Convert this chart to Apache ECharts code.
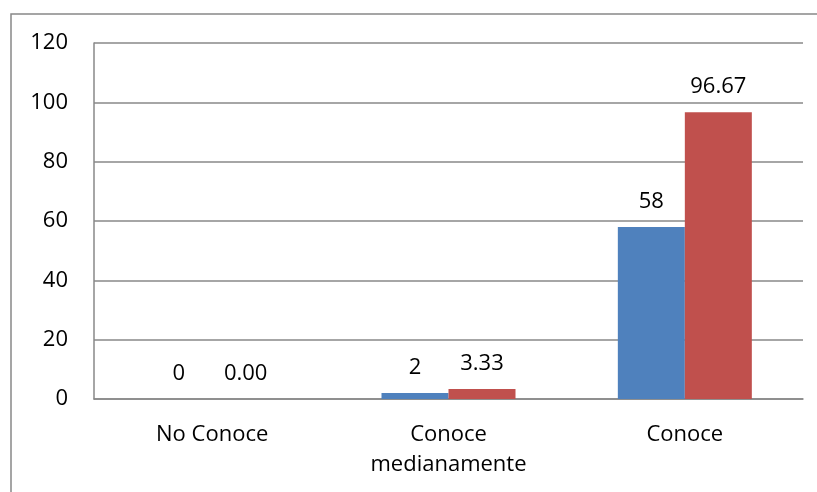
<!DOCTYPE html>
<html>
<head>
<meta charset="utf-8">
<script src="https://cdn.jsdelivr.net/npm/echarts@6/dist/echarts.min.js"></script>
<style>
  html, body { margin: 0; padding: 0; background: #fff; }
  #chart { width: 817px; height: 492px; }
</style>
</head>
<body>
<div id="chart"></div>
<script>
var categories = ["No Conoce", "Conoce\nmedianamente", "Conoce"];
var serieA = [0, 2, 58];
var serieB = [0.0, 3.33, 96.67];
var yTicks = { min: 0, max: 120, interval: 20 };

var fontFam = "Open Sans";
var fs = 22;
var chart = echarts.init(document.getElementById("chart"));

var option = {
  animation: false,
  textStyle: { fontFamily: fontFam },
  graphic: [
    {
      type: "rect",
      shape: { x: 11, y: 14, width: 830, height: 500 },
      style: { fill: "none", stroke: "#888888", lineWidth: 1.5 },
      silent: true
    }
  ],
  grid: { left: 94, top: 43, right: 14, bottom: 93 },
  xAxis: {
    type: "category",
    data: categories,
    axisLine: { show: true, lineStyle: { color: "#888888", width: 1.5 } },
    axisTick: { show: false },
    axisLabel: {
      color: "#000",
      fontSize: fs,
      fontFamily: fontFam,
      margin: 21,
      lineHeight: 30
    }
  },
  yAxis: {
    type: "value",
    min: yTicks.min,
    max: yTicks.max,
    interval: yTicks.interval,
    axisLine: { show: true, lineStyle: { color: "#888888", width: 1.5 } },
    axisTick: { show: false },
    splitLine: { lineStyle: { color: "#888888", width: 1.5 } },
    axisLabel: { color: "#000", fontSize: fs, fontFamily: fontFam, margin: 26 }
  },
  series: [
    {
      type: "bar",
      data: serieA,
      barWidth: 67,
      barGap: "0%",
      itemStyle: { color: "#4F81BD" },
      label: {
        show: true,
        position: "top",
        distance: 14,
        color: "#000",
        fontSize: fs,
        fontFamily: fontFam,
        formatter: function (p) { return String(p.value); }
      }
    },
    {
      type: "bar",
      data: serieB,
      barWidth: 67,
      barGap: "0%",
      itemStyle: { color: "#C0504D" },
      label: {
        show: true,
        position: "top",
        distance: 14,
        color: "#000",
        fontSize: fs,
        fontFamily: fontFam,
        formatter: function (p) { return p.value.toFixed(2); }
      }
    }
  ]
};

chart.setOption(option);
</script>
</body>
</html>
